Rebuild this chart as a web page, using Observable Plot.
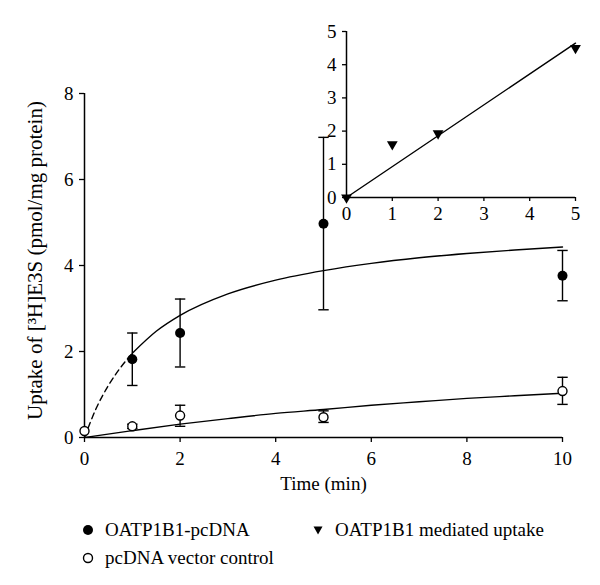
<!DOCTYPE html>
<html><head><meta charset="utf-8">
<script src="https://cdn.jsdelivr.net/npm/d3@7"></script>
<script src="https://cdn.jsdelivr.net/npm/@observablehq/plot@0.6"></script>
<style>
body{margin:0;background:#fff;}
#wrap{position:relative;width:600px;height:585px;font-family:"Liberation Serif",serif;color:#000;overflow:hidden;}
#wrap svg, #wrap svg text{font-family:"Liberation Serif",serif !important;}
#main{position:absolute;left:0;top:0;}
#inset{position:absolute;left:300px;top:0;}
.leg{position:absolute;font-family:"Liberation Serif",serif;font-size:19px;line-height:20px;white-space:nowrap;}
.leg svg{position:absolute;overflow:visible;}
</style></head><body>
<div id="wrap"><div id="main"></div><div id="inset"></div><div id="legend"></div></div>
<script>
// ---- data ----
const oatpTime = [1, 2, 5, 10];
const oatpMean = [1.82, 2.43, 4.97, 3.76];
const oatpLow  = [1.21, 1.64, 2.97, 3.18];
const oatpHigh = [2.43, 3.22, 6.98, 4.35];

const ctrlTime = [0, 1, 2, 5, 10];
const ctrlMean = [0.15, 0.26, 0.51, 0.47, 1.08];
const ctrlLow  = [0.15, 0.21, 0.26, 0.35, 0.77];
const ctrlHigh = [0.15, 0.31, 0.75, 0.62, 1.40];

const fitOatpDashT = [0, 0.25, 0.5, 0.75, 1];
const fitOatpDashV = [0, 0.69, 1.21, 1.62, 1.96];
const fitOatpT = [1, 1.5, 2, 3, 4, 5, 6, 7, 8, 9, 10];
const fitOatpV = [1.96, 2.47, 2.84, 3.34, 3.66, 3.88, 4.05, 4.18, 4.28, 4.36, 4.43];
const fitCtrlT = [0, 1, 2, 3, 4, 5, 6, 7, 8, 9, 10];
const fitCtrlV = [0, 0.16, 0.31, 0.44, 0.56, 0.65, 0.75, 0.83, 0.91, 0.97, 1.03];

const xTicks = [0, 2, 4, 6, 8, 10];
const yTicks = [0, 2, 4, 6, 8];
const xLabel = "Time (min)";
const yLabel = "Uptake of [³H]E3S (pmol/mg protein)";

const insetT = [0, 1, 2, 5];
const insetV = [0, 1.6, 1.93, 4.5];
const insetFitT = [0, 5];
const insetFitV = [0, 4.65];
const insetTicks = [0, 1, 2, 3, 4, 5];

const legendLabels = ["OATP1B1-pcDNA", "pcDNA vector control", "OATP1B1 mediated uptake"];

// ---- tables ----
const zip = (ts, vs) => ts.map((t, i) => ({t, v: vs[i]}));
const oatp = oatpTime.map((t, i) => ({t, m: oatpMean[i], lo: oatpLow[i], hi: oatpHigh[i]}));
const ctrl = ctrlTime.map((t, i) => ({t, m: ctrlMean[i], lo: ctrlLow[i], hi: ctrlHigh[i]}));
const ctrlErr = ctrl.filter(d => d.hi > d.lo);

const cap = {draw(ctx, size) { const w = Math.sqrt(size / Math.PI); ctx.moveTo(-w, 0); ctx.lineTo(w, 0); }};
const FF = "'Liberation Serif', serif";
const fmt = d3.format("d");

const H = 510;
const main = Plot.plot({
  width: 600, height: H,
  marginLeft: 84, marginRight: 38, marginTop: 93, marginBottom: H - 437,
  style: `font-family: ${FF}; font-size: 19px; color: #000; background: #fff; overflow: visible;`,
  x: {domain: [xTicks[0], xTicks[xTicks.length - 1]]},
  y: {domain: [yTicks[0], yTicks[yTicks.length - 1]]},
  marks: [
    Plot.axisX({ticks: xTicks, tickFormat: fmt, tickSize: 5, tickPadding: 9, label: null, strokeWidth: 1.3, fontSize: 19, fontFamily: FF}),
    Plot.axisY({ticks: yTicks, tickFormat: fmt, tickSize: 5, tickPadding: 6, label: null, strokeWidth: 1.3, fontSize: 19, fontFamily: FF}),
    Plot.ruleY([yTicks[0]], {x1: xTicks[0], x2: xTicks[xTicks.length - 1], strokeWidth: 1.5}),
    Plot.ruleX([xTicks[0]], {y1: yTicks[0], y2: yTicks[yTicks.length - 1], strokeWidth: 1.5}),
    Plot.text([xLabel], {frameAnchor: "bottom", dy: 52, text: d => d, fontSize: 19, fontFamily: FF}),
    Plot.text([yLabel], {frameAnchor: "left", dx: -49, dy: -5, rotate: -90, textAnchor: "middle", text: d => d, fontSize: 21, fontFamily: FF}),
    // fitted curves
    Plot.line(zip(fitOatpDashT, fitOatpDashV), {x: "t", y: "v", curve: "monotone-x", strokeWidth: 1.4, strokeDasharray: "6,4"}),
    Plot.line(zip(fitOatpT, fitOatpV), {x: "t", y: "v", curve: "monotone-x", strokeWidth: 1.4}),
    Plot.line(zip(fitCtrlT, fitCtrlV), {x: "t", y: "v", curve: "monotone-x", strokeWidth: 1.4}),
    // error bars
    Plot.ruleX(oatp, {x: "t", y1: "lo", y2: "hi", strokeWidth: 1.4}),
    Plot.dot(oatp, {x: "t", y: "hi", symbol: cap, r: 5.2, stroke: "black", strokeWidth: 1.4}),
    Plot.dot(oatp, {x: "t", y: "lo", symbol: cap, r: 5.2, stroke: "black", strokeWidth: 1.4}),
    Plot.ruleX(ctrlErr, {x: "t", y1: "lo", y2: "hi", strokeWidth: 1.4}),
    Plot.dot(ctrlErr, {x: "t", y: "hi", symbol: cap, r: 5.2, stroke: "black", strokeWidth: 1.4}),
    Plot.dot(ctrlErr, {x: "t", y: "lo", symbol: cap, r: 5.2, stroke: "black", strokeWidth: 1.4}),
    // points
    Plot.dot(oatp, {x: "t", y: "m", r: 5, fill: "black"}),
    Plot.dot(ctrl, {x: "t", y: "m", r: 4.5, fill: "white", stroke: "black", strokeWidth: 1.4})
  ]
});
document.getElementById("main").appendChild(main);

const IH = 230;
const inset = Plot.plot({
  width: 290, height: IH,
  marginLeft: 46, marginRight: 15, marginTop: 31, marginBottom: IH - 197,
  style: `font-family: ${FF}; font-size: 19px; color: #000; background: transparent; overflow: visible;`,
  x: {domain: [insetTicks[0], insetTicks[insetTicks.length - 1]]},
  y: {domain: [insetTicks[0], insetTicks[insetTicks.length - 1]]},
  marks: [
    Plot.axisX({ticks: insetTicks, tickFormat: fmt, tickSize: 4, tickPadding: 5, label: null, strokeWidth: 1.3, fontSize: 19, fontFamily: FF}),
    Plot.axisY({ticks: insetTicks, tickFormat: fmt, tickSize: 4, tickPadding: 6, label: null, strokeWidth: 1.3, fontSize: 19, fontFamily: FF}),
    Plot.ruleY([insetTicks[0]], {x1: insetTicks[0], x2: insetTicks[insetTicks.length - 1], strokeWidth: 1.5}),
    Plot.ruleX([insetTicks[0]], {y1: insetTicks[0], y2: insetTicks[insetTicks.length - 1], strokeWidth: 1.5}),
    Plot.line(zip(insetFitT, insetFitV), {x: "t", y: "v", strokeWidth: 1.4}),
    Plot.dot(zip(insetT, insetV), {x: "t", y: "v", symbol: "triangle", rotate: 180, r: 4, fill: "black"})
  ]
});
document.getElementById("inset").appendChild(inset);

// ---- legend ----
const legend = document.getElementById("legend");
const items = [
  {label: legendLabels[0], x: 88, y: 530, sym: '<circle r="5" fill="black"/>'},
  {label: legendLabels[1], x: 88, y: 558, sym: '<circle r="4.5" fill="white" stroke="black" stroke-width="1.4"/>'},
  {label: legendLabels[2], x: 318, y: 530, sym: '<path d="M-4.5,-3.5L4.5,-3.5L0,4.5Z" fill="black"/>'}
];
for (const it of items) {
  const d = document.createElement("div");
  d.className = "leg";
  d.style.left = (it.x + 17) + "px";
  d.style.top = (it.y - 10) + "px";
  d.innerHTML = `<svg width="1" height="1" style="left:-17px;top:10px">${it.sym}</svg>` + it.label;
  legend.appendChild(d);
}
</script>
</body></html>
